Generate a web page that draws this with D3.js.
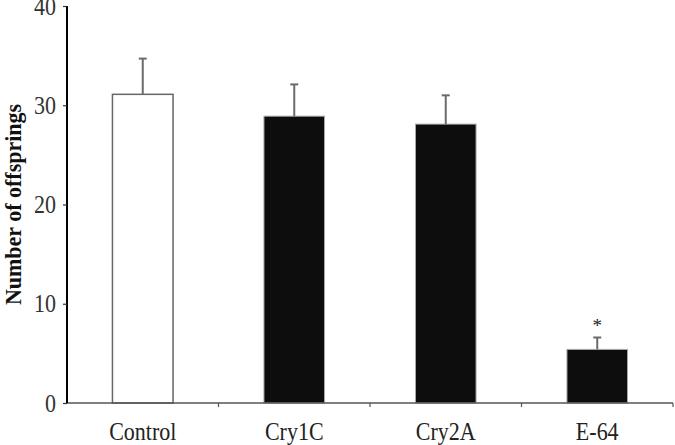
<!DOCTYPE html>
<html><head><meta charset="utf-8">
<script src="https://cdn.jsdelivr.net/npm/d3@7"></script>
<style>body{margin:0;background:#fff}svg{display:block}</style>
</head><body>
<svg id="c" width="675" height="445"></svg>
<script>
const categories = ["Control", "Cry1C", "Cry2A", "E-64"];
const means = [31.1, 28.9, 28.1, 5.4];
const errors = [3.6, 3.2, 2.9, 1.2];
const fills = ["#ffffff", "#0d0d0d", "#0d0d0d", "#0d0d0d"];
const significance = ["", "", "", "*"];
const yTicks = [0, 10, 20, 30, 40];
const yTitle = "Number of offsprings";

const svg = d3.select("#c");
const font = "'Liberation Serif','Times New Roman',serif";
const stretch = 1.14;
const x = d3.scaleBand().domain(categories).range([67, 673]).paddingInner(0).paddingOuter(0);
const y = d3.scaleLinear().domain([0, 40]).range([403, 6]);
const bw = x.bandwidth();

// bars
svg.selectAll("rect.bar").data(categories).join("rect")
  .attr("x", d => x(d) + bw * 0.3)
  .attr("width", bw * 0.4)
  .attr("y", (d, i) => y(means[i]))
  .attr("height", (d, i) => y(0) - y(means[i]))
  .attr("fill", (d, i) => fills[i])
  .attr("stroke", (d, i) => i === 0 ? "#666" : "#aaa")
  .attr("stroke-width", (d, i) => i === 0 ? 1.5 : 1);

// error bars
const eb = svg.append("g").attr("stroke", "#6b6b6b").attr("stroke-width", 2);
categories.forEach((c, i) => {
  const cx = x(c) + bw / 2;
  eb.append("line").attr("x1", cx).attr("x2", cx).attr("y1", y(means[i])).attr("y2", y(means[i] + errors[i]));
  eb.append("line").attr("x1", cx - 4).attr("x2", cx + 4).attr("y1", y(means[i] + errors[i])).attr("y2", y(means[i] + errors[i]));
  if (significance[i]) {
    svg.append("text").attr("x", cx).attr("y", y(means[i] + errors[i]) - 5)
      .attr("text-anchor", "middle").attr("font-family", font).attr("font-size", 19)
      .attr("fill", "#222").text(significance[i]);
  }
});

// x axis
const xg = svg.append("g").attr("transform", "translate(0,403)");
xg.append("line").attr("x1", 67).attr("x2", 673).attr("stroke", "#555").attr("stroke-width", 1.5);
xg.selectAll("line.t").data(categories).join("line")
  .attr("x1", d => x(d) + bw).attr("x2", d => x(d) + bw).attr("y1", 0).attr("y2", 4)
  .attr("stroke", "#555").attr("stroke-width", 1.2);
xg.selectAll("text").data(categories).join("text")
  .attr("transform", d => "translate(" + (x(d) + bw / 2) + ",37) scale(1," + stretch + ")")
  .attr("text-anchor", "middle").attr("font-family", font).attr("font-size", 22)
  .attr("fill", "#222").text(d => d);

// y axis
const yAxis = d3.axisLeft(y).tickValues(yTicks).tickSize(4).tickPadding(7).tickFormat(d3.format("d"));
const yg = svg.append("g").attr("transform", "translate(67,0)").call(yAxis);
yg.select(".domain").attr("stroke", "#000").attr("stroke-width", 2).attr("d", "M0," + y(40) + "V" + y(0));
yg.selectAll(".tick line").attr("stroke", "#333").attr("stroke-width", 1.2);
yg.selectAll(".tick text").attr("font-family", font).attr("font-size", 22).attr("fill", "#333")
  .attr("transform", "scale(1," + stretch + ")");

svg.append("text")
  .attr("transform", "translate(21," + ((y(0) + y(40)) / 2) + ") rotate(-90) scale(1,1.06)")
  .attr("text-anchor", "middle").attr("font-family", font).attr("font-size", 22)
  .attr("font-weight", "bold").attr("fill", "#111").text(yTitle);
</script>
</body></html>
